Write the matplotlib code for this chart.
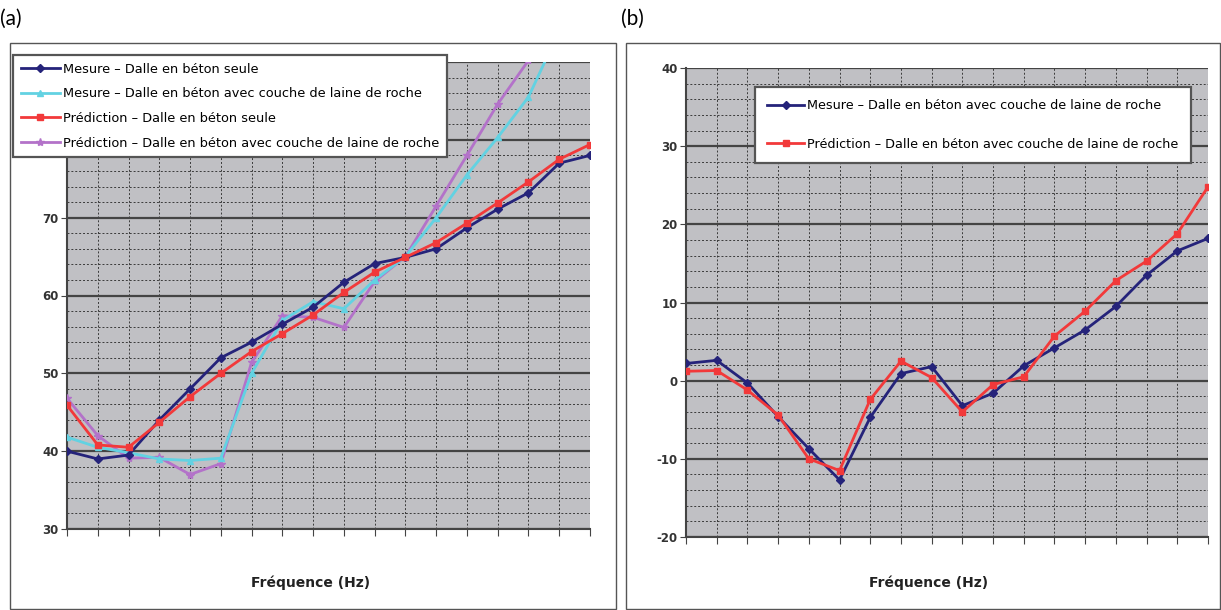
import matplotlib.pyplot as plt
from matplotlib.patches import Rectangle
from matplotlib.ticker import MultipleLocator
import numpy as np

plt.rcParams['axes.unicode_minus'] = False

# 18 bandes de frequence, pas d'etiquettes sur l'axe x
n_pts = 18
idx = np.arange(n_pts)

# (a) isolement (dB)
mes_seule = [40, 39, 39.5, 44, 48, 52, 54, 56.3, 58.5, 61.7, 64.1, 64.9,
             66, 68.7, 71.1, 73.2, 77, 78]
mes_laine = [41.8, 40.5, 39.8, 39, 38.8, 39.1, 50, 56.8, 59.2, 58.3, 62, 65,
             70, 75.5, 80.3, 85.5, 94, 99]
pred_seule = [45.9, 40.8, 40.5, 43.7, 47, 50, 52.8, 55.1, 57.5, 60.4, 63, 64.9,
              66.8, 69.3, 71.9, 74.6, 77.5, 79.4]
pred_laine = [46.8, 42, 39.1, 39.2, 37, 38.4, 51.4, 57.4, 57.2, 55.9, 61.8, 65,
              71.5, 78, 84.6, 90.2, 96, 101]

# (b) amelioration (dB)
mes_b = [2.2, 2.6, -0.3, -4.6, -8.7, -12.7, -4.7, 0.9, 1.8, -3.2, -1.6, 1.9,
         4.2, 6.5, 9.5, 13.5, 16.6, 18.2]
pred_b = [1.2, 1.3, -1.2, -4.4, -10, -11.5, -2.4, 2.5, 0.4, -4, -0.5, 0.5,
          5.7, 8.9, 12.8, 15.3, 18.8, 24.8]

lab_a = ["Mesure – Dalle en béton seule",
         "Mesure – Dalle en béton avec couche de laine de roche",
         "Prédiction – Dalle en béton seule",
         "Prédiction – Dalle en béton avec couche de laine de roche"]
lab_b = ["Mesure – Dalle en béton avec couche de laine de roche",
         "Prédiction – Dalle en béton avec couche de laine de roche"]

NAVY = '#25237a'
CYAN = '#62d2e2'
RED = '#f2393a'
PURPLE = '#b372c9'
BG = '#c0c0c4'

W, H = 1221, 610
fig = plt.figure(figsize=(W / 100, H / 100), dpi=100)


def fx(px):
    return px / W


def fy(py):
    return 1 - py / H


# cadres des deux panneaux
for x0, x1 in [(10, 616), (626, 1220)]:
    fig.patches.append(Rectangle((fx(x0), fy(609)), fx(x1 - x0), (609 - 43) / H,
                                 transform=fig.transFigure, fill=False,
                                 edgecolor='#555555', lw=1.0))
fig.text(fx(0), fy(19), "(a)", fontsize=15, family='Lato', va='center', ha='left')
fig.text(fx(621), fy(19), "(b)", fontsize=15, family='Lato', va='center', ha='left')


def style_axes(ax, ymin, ymax):
    ax.set_facecolor(BG)
    ax.set_xlim(0, n_pts - 1)
    ax.set_ylim(ymin, ymax)
    ax.yaxis.set_major_locator(MultipleLocator(10))
    ax.yaxis.set_minor_locator(MultipleLocator(2))
    ax.xaxis.set_major_locator(MultipleLocator(1))
    ax.set_xticklabels([])
    for y in np.arange(ymin, ymax + 0.1, 2):
        if y % 10 != 0:
            ax.axhline(y, color='#3a3a3a', lw=0.7, ls=(0, (2, 2)), zorder=1)
    for x in idx[1:]:
        ax.axvline(x, color='#3a3a3a', lw=0.7, ls=(0, (2, 2)), zorder=1)
    for y in np.arange(ymin, ymax + 0.1, 10):
        ax.axhline(y, color='#444444', lw=1.6, zorder=1.5)
    for s in ['top', 'right']:
        ax.spines[s].set_visible(False)
    for s in ['left', 'bottom']:
        ax.spines[s].set_color('#444444')
        ax.spines[s].set_linewidth(1.5)
    ax.tick_params(axis='y', which='major', direction='out', length=4,
                   color='#444444', labelsize=8.5, pad=2, labelcolor='#333333')
    ax.tick_params(axis='y', which='minor', length=0)
    ax.tick_params(axis='x', which='major', direction='out', length=5,
                   color='#444444')
    for t in ax.get_yticklabels():
        t.set_fontweight('bold')


# panneau (a)
ax1 = fig.add_axes([fx(67), fy(529), fx(590 - 67), (529 - 62) / H])
style_axes(ax1, 30, 90)
ax1.plot(idx, mes_seule, color=NAVY, lw=2, marker='D', ms=4, label=lab_a[0], zorder=5)
ax1.plot(idx, mes_laine, color=CYAN, lw=2, marker='^', ms=5, label=lab_a[1], zorder=4)
ax1.plot(idx, pred_seule, color=RED, lw=2, marker='s', ms=4.5, label=lab_a[2], zorder=6)
ax1.plot(idx, pred_laine, color=PURPLE, lw=2, marker='*', ms=6, label=lab_a[3], zorder=3)
leg1 = ax1.legend(loc='upper left', bbox_to_anchor=(fx(13), fy(55)),
                  bbox_transform=fig.transFigure, fontsize=9.3, handlelength=3.0,
                  labelspacing=0.9, borderpad=0.6, handletextpad=0.25,
                  fancybox=False, framealpha=1, borderaxespad=0)
leg1.get_frame().set_edgecolor('#555555')
leg1.get_frame().set_linewidth(1.6)
leg1.set_zorder(10)
fig.text(fx(311), fy(583), "Fréquence (Hz)", fontsize=10, fontweight='bold',
         ha='center', va='center', color='#222222')

# panneau (b)
ax2 = fig.add_axes([fx(686), fy(537), fx(1208 - 686), (537 - 68) / H])
style_axes(ax2, -20, 40)
ax2.plot(idx, mes_b, color=NAVY, lw=2, marker='D', ms=4, label=lab_b[0], zorder=5)
ax2.plot(idx, pred_b, color=RED, lw=2, marker='s', ms=4.5, label=lab_b[1], zorder=6)
leg2 = ax2.legend(loc='upper left', bbox_to_anchor=(fx(755), fy(87)),
                  bbox_transform=fig.transFigure, fontsize=9.2, handlelength=2.9,
                  labelspacing=2.0, borderpad=0.95, handletextpad=0.25,
                  fancybox=False, framealpha=1, borderaxespad=0)
leg2.get_frame().set_edgecolor('#555555')
leg2.get_frame().set_linewidth(1.6)
leg2.set_zorder(10)
fig.text(fx(929), fy(583), "Fréquence (Hz)", fontsize=10, fontweight='bold',
         ha='center', va='center', color='#222222')

fig.savefig('out.png', dpi=100)
